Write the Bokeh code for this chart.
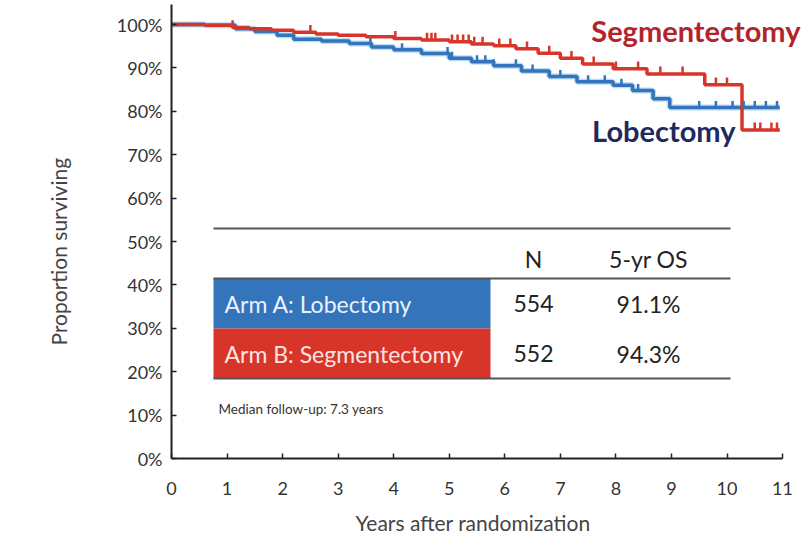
import numpy as np
from bokeh.plotting import figure
from bokeh.models import Range1d, FixedTicker, Label, Title
from bokeh.core.properties import value
from bokeh.embed import file_html
from bokeh.resources import INLINE

# ---------------- data ----------------
x_ticks = [0, 1, 2, 3, 4, 5, 6, 7, 8, 9, 10, 11]
y_ticks = [0.0, 0.1, 0.2, 0.3, 0.4, 0.5, 0.6, 0.7, 0.8, 0.9, 1.0]
y_tick_labels = ["0%", "10%", "20%", "30%", "40%", "50%", "60%", "70%", "80%", "90%", "100%"]
x_title = "Years after randomization"
y_title = "Proportion surviving"

seg_time = [0.0, 0.6, 1.1, 1.4, 1.8, 2.2, 2.6, 3.0, 3.5, 4.0, 4.5, 5.0, 5.4, 5.8,
            6.2, 6.6, 7.0, 7.4, 7.95, 8.56, 9.6, 10.27, 10.95]
seg_surv = [1.000, 0.998, 0.993, 0.990, 0.987, 0.982, 0.978, 0.975, 0.972, 0.968,
            0.964, 0.960, 0.955, 0.951, 0.944, 0.934, 0.922, 0.909, 0.898, 0.886,
            0.861, 0.757, 0.757]

lob_time = [0.0, 0.6, 1.15, 1.5, 1.9, 2.2, 2.7, 3.2, 3.6, 4.0, 4.5, 5.0, 5.4, 5.8,
            6.3, 6.8, 7.3, 7.95, 8.3, 8.67, 8.97, 10.95]
lob_surv = [1.000, 0.998, 0.990, 0.984, 0.975, 0.966, 0.962, 0.956, 0.948, 0.942,
            0.933, 0.922, 0.914, 0.905, 0.893, 0.880, 0.868, 0.860, 0.848, 0.829,
            0.809, 0.809]

seg_censor = [1.1, 2.5, 4.03, 4.6, 4.68, 4.75, 5.05, 5.15, 5.25, 5.35, 5.45, 5.6,
              5.9, 6.1, 6.4, 6.8, 7.2, 7.6, 8.0, 8.4, 8.8, 9.2, 9.8, 10.0, 10.5,
              10.6, 10.8, 10.9]
lob_censor = [3.58, 4.15, 4.97, 5.05, 5.5, 5.65, 5.8, 6.2, 6.5, 7.0, 7.5, 7.8, 8.1,
              8.4, 9.5, 9.8, 10.1, 10.3, 10.5, 10.7, 10.9]

table_header = ["N", "5-yr OS"]
table_arms = ["Arm A: Lobectomy", "Arm B: Segmentectomy"]
table_n = ["554", "552"]
table_os = ["91.1%", "94.3%"]
footnote = "Median follow-up: 7.3 years"

FONT = "Lato"
RED = "#D8352A"
BLUE = "#3374BA"

# layout (picture pixels): x=0 at 171px, 55.55 px/year; y=0 at 458px, 434 px/unit
X0, XS = 171, 55.55
Y0, YS = 458, 434.0
W, H = 802, 547

p = figure(width=W, height=H, output_backend="svg", toolbar_location=None,
           x_range=Range1d(0, (W - X0) / XS), y_range=Range1d(0, Y0 / YS),
           min_border_left=X0, min_border_bottom=H - Y0, min_border_top=0,
           min_border_right=0)
p.outline_line_color = None
p.grid.visible = False
p.background_fill_color = "white"

for ax in (p.xaxis[0], p.yaxis[0]):
    ax.axis_line_color = "#222222"
    ax.axis_line_width = 2
    ax.major_tick_line_color = "#222222"
    ax.major_tick_line_width = 1.5
    ax.major_tick_in = 5
    ax.major_tick_out = 0
    ax.minor_tick_line_color = None
    ax.major_label_text_font = FONT
    ax.major_label_text_font_size = "18px"
    ax.major_label_text_color = "#333333"

p.xaxis.ticker = FixedTicker(ticks=x_ticks)
p.xaxis.bounds = (0, 11)
p.xaxis.major_label_standoff = 23

p.yaxis.ticker = FixedTicker(ticks=y_ticks)
p.yaxis.bounds = (0, 1.045)
p.yaxis.major_label_overrides = {t: l for t, l in zip(y_ticks, y_tick_labels)}
p.yaxis.major_label_standoff = 9

# axis titles as side titles (allow offsetting along the axis)
p.add_layout(Title(text=x_title, align="left", offset=184, standoff=21,
                   text_font=FONT, text_font_size="21px", text_font_style="normal",
                   text_color="#444444"), "below")
p.add_layout(Title(text=y_title, align="left", offset=113, standoff=85,
                   text_font=FONT, text_font_size="21px", text_font_style="normal",
                   text_color="#444444"), "left")

# ---------------- curves ----------------
p.step(lob_time, lob_surv, mode="after", line_color="#A9D3F2", line_width=6, line_alpha=0.8)
p.step(lob_time, lob_surv, mode="after", line_color=BLUE, line_width=3.5)
p.step(seg_time, seg_surv, mode="after", line_color=RED, line_width=3.5)


def surv_at(times, surv, c):
    t = np.asarray(times)
    s = np.asarray(surv)
    idx = np.searchsorted(t, np.asarray(c), side="right") - 1
    return s[idx]

lc = np.asarray(lob_censor)
ly = surv_at(lob_time, lob_surv, lob_censor)
p.segment(x0=lc, y0=ly, x1=lc, y1=ly + 0.015, line_color=BLUE, line_width=2.5)
sc = np.asarray(seg_censor)
sy = surv_at(seg_time, seg_surv, seg_censor)
p.segment(x0=sc, y0=sy, x1=sc, y1=sy + 0.017, line_color=RED, line_width=2.5)

# ---------------- curve labels (frame-relative screen units) ----------------
p.add_layout(Label(x=800 - X0, y=Y0 - 30, x_units="screen", y_units="screen",
                   text="Segmentectomy", text_font=FONT, text_font_style="bold",
                   text_font_size="29px", text_color="#B3232B",
                   text_align="right", text_baseline="middle"))
p.add_layout(Label(x=735 - X0, y=Y0 - 130, x_units="screen", y_units="screen",
                   text="Lobectomy", text_font=FONT, text_font_style="bold",
                   text_font_size="29px", text_color="#1E2A5E",
                   text_align="right", text_baseline="middle"))

# ---------------- table ----------------
def px2x(px):
    return (px - X0) / XS

def py2y(py):
    return (Y0 - py) / YS

tl, tr, tmid = px2x(213), px2x(730), px2x(490)
y_top, y_head, y_mid, y_bot = py2y(228), py2y(278), py2y(328), py2y(378)

p.quad(left=[tl, tl], right=[tmid, tmid], top=[y_head, y_mid], bottom=[y_mid, y_bot],
       fill_color=[BLUE, RED], line_color=None)
p.segment(x0=[tl, tl, tl], y0=[y_top, y_head, y_bot], x1=[tr, tr, tr],
          y1=[y_top, y_head, y_bot], line_color="#555555", line_width=2)

col_n, col_os = px2x(533), px2x(648)
p.text(x=[col_n, col_os], y=[py2y(258)] * 2, text=table_header,
       text_font=value(FONT), text_font_size="23px", text_color="#222222",
       text_align="center", text_baseline="middle")
row_y = [py2y(303), py2y(353)]
p.text(x=[px2x(224)] * 2, y=row_y, text=table_arms, text_font=value(FONT),
       text_font_size="23px", text_color=["#EAF2FF", "#FCE4E0"],
       text_align="left", text_baseline="middle")
p.text(x=[col_n] * 2, y=row_y, text=table_n, text_font=value(FONT),
       text_font_size="23px", text_color="#222222", text_align="center",
       text_baseline="middle")
p.text(x=[col_os] * 2, y=row_y, text=table_os, text_font=value(FONT),
       text_font_size="23px", text_color="#222222", text_align="center",
       text_baseline="middle")
p.text(x=[px2x(218)], y=[py2y(408)], text=[footnote], text_font=value(FONT),
       text_font_size="13.5px", text_color="#333333", text_align="left",
       text_baseline="middle")

open("out.html", "w").write(file_html(p, INLINE))
